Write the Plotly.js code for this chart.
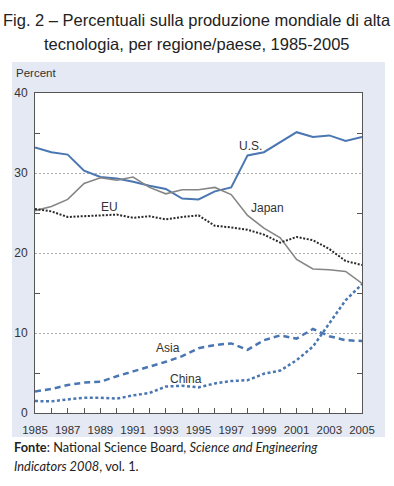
<!DOCTYPE html>
<html>
<head>
<meta charset="utf-8">
<script src="https://cdn.plot.ly/plotly-3.0.1.min.js"></script>
<style>
html,body{margin:0;padding:0;background:#fff;}
#chart{width:394px;height:486px;}
</style>
</head>
<body>
<div id="chart"></div>
<script>
const years = [1985,1986,1987,1988,1989,1990,1991,1992,1993,1994,1995,1996,1997,1998,1999,2000,2001,2002,2003,2004,2005];
const usValues    = [33.2,32.6,32.3,30.3,29.5,29.3,28.9,28.4,28.0,26.8,26.7,27.7,28.2,32.2,32.6,33.8,35.1,34.5,34.7,34.0,34.5];
const japanValues = [25.3,25.8,26.7,28.7,29.4,29.1,29.5,28.2,27.4,27.9,27.9,28.2,27.3,24.7,23.1,21.9,19.2,18.0,17.9,17.7,16.2];
const euValues    = [25.5,25.2,24.5,24.6,24.7,24.8,24.4,24.6,24.2,24.5,24.7,23.4,23.2,22.9,22.3,21.3,22.0,21.6,20.5,19.0,18.5];
const asiaValues  = [2.7,3.0,3.5,3.8,3.9,4.6,5.2,5.8,6.4,7.1,8.1,8.5,8.7,7.9,9.1,9.7,9.3,10.5,9.6,9.1,9.0];
const chinaValues = [1.5,1.45,1.7,1.9,1.9,1.8,2.2,2.5,3.3,3.4,3.2,3.7,4.0,4.1,4.9,5.3,6.6,8.3,11.2,14.1,16.1];
const seriesLabels = ["U.S.","Japan","EU","Asia","China"];
const yTickVals = [0,10,20,30,40];
const xTickVals = [1985,1987,1989,1991,1993,1995,1997,1999,2001,2003,2005];

const blue = '#4a76b2';
const traces = [
  {x: years, y: usValues, name: seriesLabels[0], mode:'lines', line:{color: blue, width:2}},
  {x: years, y: japanValues, name: seriesLabels[1], mode:'lines', line:{color:'#858585', width:1.6}},
  {x: years, y: euValues, name: seriesLabels[2], mode:'lines', line:{color:'#2a2a2a', width:2, dash:'2px,1.6px'}},
  {x: years, y: asiaValues, name: seriesLabels[3], mode:'lines', line:{color: blue, width:2.5, dash:'6px,4px'}},
  {x: years, y: chinaValues, name: seriesLabels[4], mode:'lines', line:{color: blue, width:2.5, dash:'3px,2.5px'}}
];

const txt = '#333333';
const lblFont = {family:'Liberation Sans, Arial, sans-serif', size:12, color:txt};
const xFont = {family:'Liberation Sans, Arial, sans-serif', size:11.5, color:txt};

const layout = {
  width:394, height:486,
  margin:{l:35, r:32, t:93, b:73, pad:0},
  paper_bgcolor:'#ffffff',
  plot_bgcolor:'#ffffff',
  showlegend:false,
  xaxis:{
    range:[1985,2005], tickvals:xTickVals, ticktext:xTickVals.map(String),
    ticks:'inside', ticklen:5, tickcolor:'#555', tickwidth:1,
    minor:{dtick:1, tick0:1985, ticks:'inside', ticklen:5, tickcolor:'#555', tickwidth:1, showgrid:false},
    showgrid:false, zeroline:false,
    showline:true, linecolor:'#555', linewidth:1, mirror:true,
    tickfont:xFont, ticklabelstandoff:6, fixedrange:true
  },
  yaxis:{
    range:[0,40], tickvals:yTickVals, ticktext:yTickVals.map(String),
    ticks:'', showgrid:true, gridcolor:'#aaaaaa', gridwidth:1, griddash:'2px,2px',
    minor:{tickvals:[5,15,25,35], ticks:'inside', ticklen:5, tickcolor:'#555', tickwidth:1, showgrid:false},
    zeroline:false, showline:true, linecolor:'#555', linewidth:1, mirror:'allticks',
    tickfont:lblFont, ticklabelstandoff:4, fixedrange:true
  },
  shapes:[
    {type:'rect', xref:'paper', yref:'paper', x0:-0.0703, x1:1.0703, y0:-0.075, y1:1.097,
     fillcolor:'#e5e9f4', line:{width:0}, layer:'below'},
    {type:'rect', xref:'paper', yref:'paper', x0:0, x1:1, y0:0, y1:1,
     fillcolor:'#ffffff', line:{width:0}, layer:'below'}
  ],
  annotations:[
    {xref:'paper', yref:'paper', x:0.4954, y:1.228, xanchor:'center', yanchor:'middle', showarrow:false,
     text:'Fig. 2 – Percentuali sulla produzione mondiale di alta',
     font:{family:'Liberation Sans Narrow, Arial Narrow, sans-serif', size:16.5, color:'#222'}},
    {xref:'paper', yref:'paper', x:0.4954, y:1.153, xanchor:'center', yanchor:'middle', showarrow:false,
     text:'tecnologia, per regione/paese, 1985-2005',
     font:{family:'Liberation Sans Narrow, Arial Narrow, sans-serif', size:16.5, color:'#222'}},
    {xref:'paper', yref:'paper', x:-0.064, y:1.0625, xanchor:'left', yanchor:'middle', showarrow:false,
     text:'Percent', font:{family:'Liberation Sans, Arial, sans-serif', size:11.5, color:txt}},
    {x:1998.2, y:33.4, showarrow:false, text:seriesLabels[0], font:lblFont},
    {x:1999.25, y:25.6, showarrow:false, text:seriesLabels[1], font:lblFont},
    {x:1989.56, y:25.75, showarrow:false, text:seriesLabels[2], font:lblFont},
    {x:1993.13, y:8.1, showarrow:false, text:seriesLabels[3], font:lblFont},
    {x:1994.24, y:4.25, showarrow:false, text:seriesLabels[4], font:lblFont},
    {xref:'paper', yref:'paper', x:-0.0703, y:-0.106, xanchor:'left', yanchor:'middle', showarrow:false,
     text:'<b>Fonte</b>: National Science Board, <i>Science and Engineering</i>',
     font:{family:'Lato, Open Sans, sans-serif', size:12.8, color:'#222'}},
    {xref:'paper', yref:'paper', x:-0.0703, y:-0.166, xanchor:'left', yanchor:'middle', showarrow:false,
     text:'<i>Indicators 2008</i>, vol. 1.',
     font:{family:'Lato, Open Sans, sans-serif', size:12.8, color:'#222'}}
  ]
};

Plotly.newPlot('chart', traces, layout, {displayModeBar:false, staticPlot:true});
</script>
</body>
</html>
